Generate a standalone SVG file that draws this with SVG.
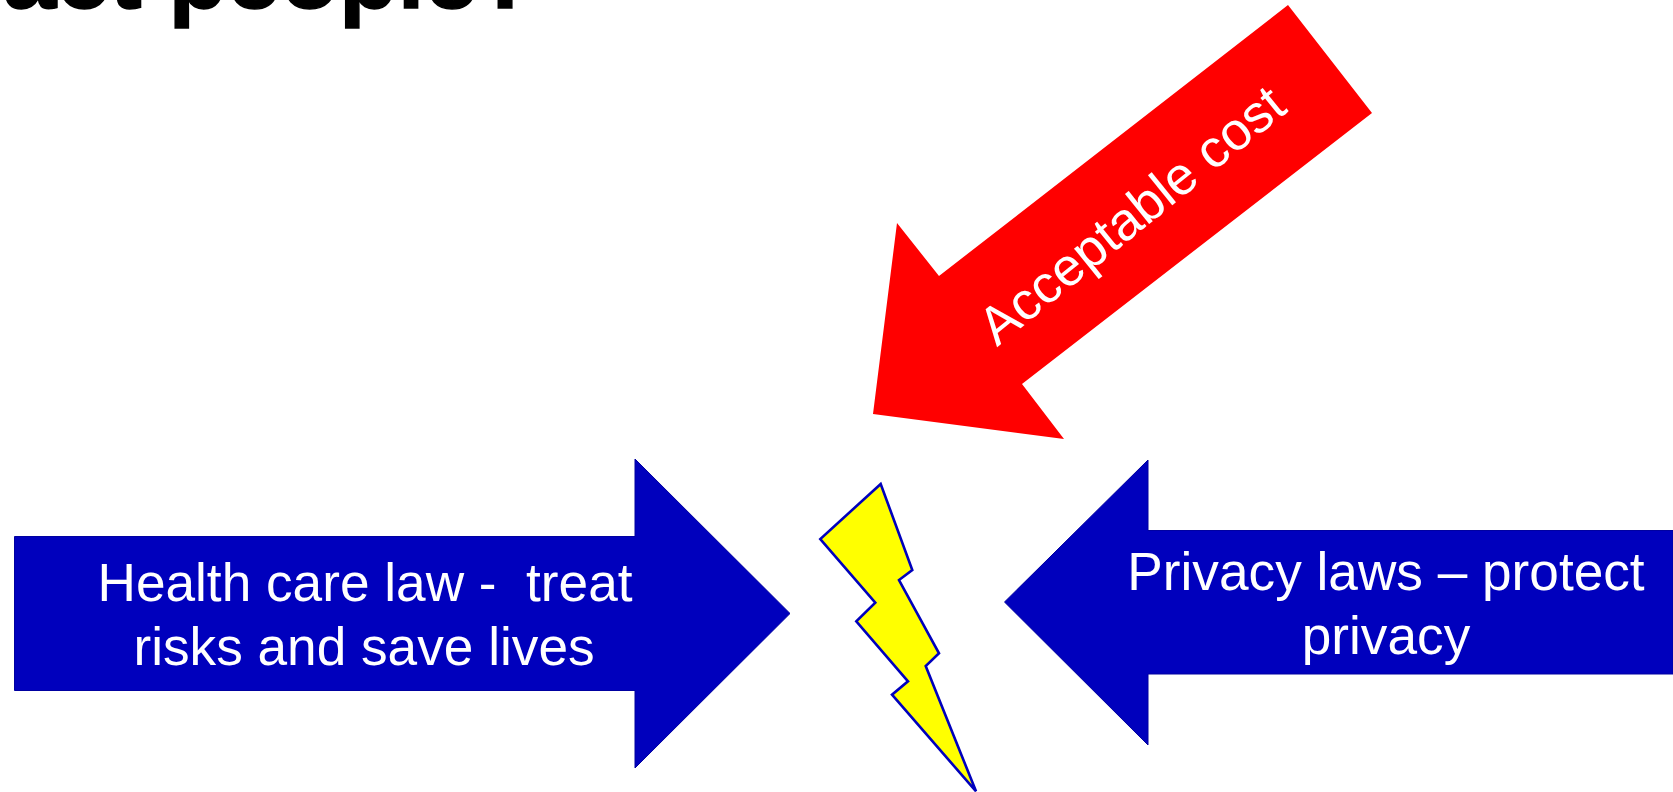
<svg xmlns="http://www.w3.org/2000/svg" width="1673" height="792" viewBox="0 0 1673 792">
<style>
text{font-family:"Liberation Sans",Arial,sans-serif}
.l{fill:#fff;font-size:53.2px;text-anchor:middle;white-space:pre}
.b{fill:#0000bd;stroke:#0000a0;stroke-width:1}
</style>
<rect width="1673" height="792" fill="#fff"/>
<text id="title" x="3" y="8" font-size="96" font-weight="700" fill="#000" stroke="#000" stroke-width="1.5">act people?</text>
<g id="cost-arrow">
<polygon points="1288,5 1372,113 1022,384 1064,439 873,414 897,223 939,276" fill="#f00"/>
<text class="l" transform="translate(1143,229) rotate(-39)">Acceptable cost</text>
</g>
<g id="health-arrow">
<polygon class="b" points="14.5,536.5 635,536.5 635,459 790,613.5 635,768 635,690.5 14.5,690.5"/>
<text class="l" x="365" y="601" xml:space="preserve">Health care law -  treat</text>
<text class="l" x="364" y="665">risks and save lives</text>
</g>
<g id="privacy-arrow">
<polygon class="b" points="1673,530.5 1148,530.5 1148,460 1004.5,602 1148,745 1148,674 1673,674"/>
<text class="l" x="1386" y="590">Privacy laws – protect</text>
<text class="l" x="1386" y="654">privacy</text>
</g>
<g id="bolt">
<polygon points="880.7,484 820.3,539 875.3,602.7 856.3,621.3 908,681.3 892,694.7 976,791.3 925.7,666 939,653.3 899,580 912.3,570" fill="#ff0" stroke="#0000bd" stroke-width="2.6"/>
</g>
<g id="connectors"></g>
</svg>
